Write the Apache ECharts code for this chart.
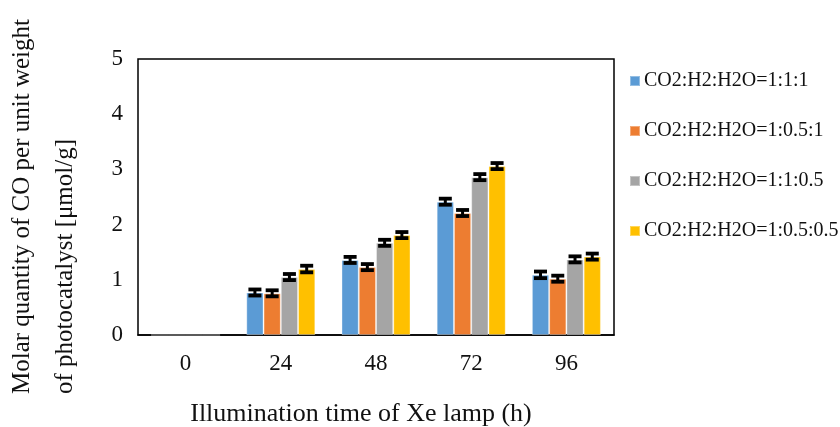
<!DOCTYPE html>
<html>
<head>
<meta charset="utf-8">
<script src="https://cdn.jsdelivr.net/npm/echarts@6/dist/echarts.min.js"></script>
<style>html,body{margin:0;padding:0;background:#fff}#c{width:840px;height:427px}</style>
</head>
<body>
<div id="c"></div>
<script>
var categories = ['0', '24', '48', '72', '96'];
var seriesNames = ['CO2:H2:H2O=1:1:1', 'CO2:H2:H2O=1:0.5:1', 'CO2:H2:H2O=1:1:0.5', 'CO2:H2:H2O=1:0.5:0.5'];
var ratio111 = [0, 0.77, 1.36, 2.415, 1.09];
var ratio1051 = [0, 0.755, 1.23, 2.21, 1.02];
var ratio1105 = [0, 1.05, 1.67, 2.86, 1.37];
var ratio10505 = [0, 1.195, 1.81, 3.06, 1.42];
var err111 = [null, 0.055, 0.055, 0.055, 0.06];
var err1051 = [null, 0.055, 0.055, 0.055, 0.055];
var err1105 = [null, 0.055, 0.055, 0.055, 0.055];
var err10505 = [null, 0.06, 0.055, 0.055, 0.055];
var yTicks = [0, 1, 2, 3, 4, 5];
var colors = ['#5B9BD5', '#ED7D31', '#A5A5A5', '#FFC000'];

var values = [ratio111, ratio1051, ratio1105, ratio10505];
var errors = [err111, err1051, err1105, err10505];
var CAT_GAP = 0.275;
var FONT = '"Liberation Serif", "Times New Roman", serif';
var TXT = '#111';

var chart = echarts.init(document.getElementById('c'));

var series = [];
values.forEach(function (vals, si) {
  series.push({
    name: seriesNames[si],
    type: 'bar',
    data: vals,
    barGap: '0%',
    barCategoryGap: (CAT_GAP * 100) + '%',
    itemStyle: { color: colors[si], borderColor: 'rgba(255,255,255,0.35)', borderWidth: 1 },
    emphasis: { disabled: true },
    z: 2
  });
});

var errData = [];
values.forEach(function (vals, si) {
  vals.forEach(function (v, ci) {
    if (errors[si][ci] != null) errData.push([ci, v, errors[si][ci], si]);
  });
});

series.push({
  type: 'custom',
  data: errData,
  encode: { x: 0, y: 1 },
  z: 5,
  silent: true,
  renderItem: function (params, api) {
    var ci = api.value(0), v = api.value(1), e = api.value(2), si = api.value(3);
    var band = api.size([1, 0])[0];
    var bw = band * (1 - CAT_GAP) / 4;
    var center = api.coord([ci, v]);
    var x = center[0] + (si - 1.5) * bw;
    var top = api.coord([ci, v + e])[1];
    var bot = api.coord([ci, v - e])[1];
    var cw = 13;
    var st = { stroke: '#000', lineWidth: 3.8 };
    return {
      type: 'group',
      children: [
        { type: 'line', shape: { x1: x, y1: top, x2: x, y2: bot }, style: { stroke: '#000', lineWidth: 3 } },
        { type: 'line', shape: { x1: x - cw / 2, y1: top, x2: x + cw / 2, y2: top }, style: st },
        { type: 'line', shape: { x1: x - cw / 2, y1: bot, x2: x + cw / 2, y2: bot }, style: st }
      ]
    };
  }
});

chart.setOption({
  animation: false,
  textStyle: { fontFamily: FONT },
  grid: { left: 138, right: 226, top: 59, bottom: 92, show: true, borderColor: '#000', borderWidth: 1.5, backgroundColor: 'transparent' },
  legend: {
    orient: 'vertical',
    left: 629,
    top: 71,
    padding: 0,
    itemWidth: 10,
    itemHeight: 10,
    itemGap: 30,
    icon: 'rect',
    data: seriesNames,
    textStyle: { fontFamily: FONT, fontSize: 20, color: TXT, padding: [0, 0, 0, -1] }
  },
  xAxis: {
    type: 'category',
    data: categories,
    axisLine: { show: true, lineStyle: { color: '#000', width: 1.5 } },
    axisTick: { show: false },
    axisLabel: { fontFamily: FONT, fontSize: 23, color: TXT, margin: 17 }
  },
  yAxis: {
    type: 'value',
    min: 0,
    max: 5,
    interval: 1,
    splitLine: { show: false },
    axisLine: { show: false },
    axisTick: { show: false },
    axisLabel: { fontFamily: FONT, fontSize: 23, color: TXT, margin: 15 }
  },
  graphic: [
    { type: 'text', x: 361, y: 414, style: { text: 'Illumination time of Xe lamp (h)', font: '26px ' + FONT, fill: TXT, align: 'center', verticalAlign: 'middle' } },
    { type: 'text', x: 22.5, y: 394, rotation: Math.PI / 2, style: { text: 'Molar quantity of CO per unit weight', font: '25px ' + FONT, fill: TXT, align: 'left', verticalAlign: 'middle' } },
    { type: 'text', x: 65, y: 394, rotation: Math.PI / 2, style: { text: 'of photocatalyst [μmol/g]', font: '25px ' + FONT, fill: TXT, align: 'left', verticalAlign: 'middle' } }
  ],
  series: series
});
</script>
</body>
</html>
